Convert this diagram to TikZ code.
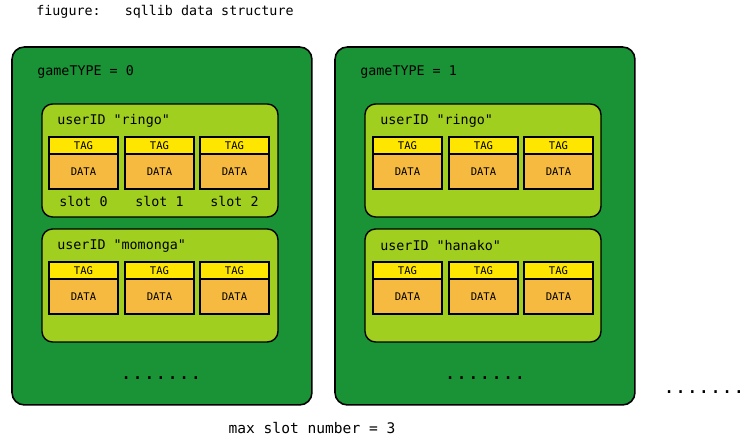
\documentclass[tikz,border=0pt]{standalone}
\usepackage{fontspec}
\setmonofont{DejaVu Sans Mono}
\usepackage{tikz}
\usetikzlibrary{positioning}

\definecolor{gamegreen}{RGB}{26,146,54}
\definecolor{usergreen}{RGB}{161,207,32}
\definecolor{tagyellow}{RGB}{255,230,0}
\definecolor{dataorange}{RGB}{247,186,64}

\tikzset{
    gamebox/.style={draw=black, line width=0.9pt, fill=gamegreen, rounded corners=7pt,
                    anchor=north west, minimum width=6cm, minimum height=7.16cm, outer sep=0pt},
    userbox/.style={draw=black, line width=0.8pt, fill=usergreen, rounded corners=6pt,
                    anchor=north west, minimum width=4.72cm, minimum height=2.26cm, outer sep=0pt},
    tagbox/.style={draw=black, line width=0.75pt, fill=tagyellow, anchor=north west,
                   minimum width=1.38cm, minimum height=0.34cm, inner sep=0pt, outer sep=0pt,
                   font=\ttfamily\fontsize{6}{7}\selectfont},
    databox/.style={draw=black, line width=0.75pt, fill=dataorange,
                    minimum width=1.38cm, minimum height=0.7cm, inner sep=0pt, outer sep=0pt,
                    font=\ttfamily\fontsize{6}{7}\selectfont},
    boxtext/.style={anchor=west, inner sep=0pt, font=\ttfamily\fontsize{7.6}{9}\selectfont},
    slottext/.style={inner sep=0pt, font=\ttfamily\fontsize{7.6}{9}\selectfont},
    moretext/.style={inner sep=0pt, font=\ttfamily\fontsize{11}{13}\selectfont}
}

\begin{document}
\begin{tikzpicture}[x=0.02cm, y=-0.02cm]
        \useasboundingbox (0,0) rectangle (747,443);

        \coordinate (G0) at (12,47);
        \coordinate (G1) at (335,47);
        \coordinate (U00) at (42,104);
        \coordinate (U01) at (42,229);
        \coordinate (U10) at (365,104);
        \coordinate (U11) at (365,229);

        % title
        \node[boxtext] (title) at (36,12) {fiugure:\ \ \ sqllib data structure};

        % gameTYPE boxes
        \node[gamebox] (g0) at (G0) {};
        \node[gamebox] (g1) at (G1) {};
        \node[boxtext] (g0name) at (37,72) {gameTYPE = 0};
        \node[boxtext] (g1name) at (360,72) {gameTYPE = 1};

        % userID boxes
        \node[userbox] (u00) at (U00) {};
        \node[userbox] (u01) at (U01) {};
        \node[userbox] (u10) at (U10) {};
        \node[userbox] (u11) at (U11) {};
        \node[boxtext] (u00name) at (57,121) {userID "ringo"};
        \node[boxtext] (u01name) at (57,246) {userID "momonga"};
        \node[boxtext] (u10name) at (380,121) {userID "ringo"};
        \node[boxtext] (u11name) at (380,246) {userID "hanako"};

        % slots, gameTYPE 0
        \node[tagbox] (t000) at (49,137) {TAG};
        \node[tagbox] (t001) at (125,137) {TAG};
        \node[tagbox] (t002) at (200,137) {TAG};
        \node[databox, below=0pt of t000] (d000) {DATA};
        \node[databox, below=0pt of t001] (d001) {DATA};
        \node[databox, below=0pt of t002] (d002) {DATA};
        \node[slottext, below=4pt of d000] (s0) {slot 0};
        \node[slottext, below=4pt of d001] (s1) {slot 1};
        \node[slottext, below=4pt of d002] (s2) {slot 2};

        \node[tagbox] (t010) at (49,262) {TAG};
        \node[tagbox] (t011) at (125,262) {TAG};
        \node[tagbox] (t012) at (200,262) {TAG};
        \node[databox, below=0pt of t010] (d010) {DATA};
        \node[databox, below=0pt of t011] (d011) {DATA};
        \node[databox, below=0pt of t012] (d012) {DATA};

        % slots, gameTYPE 1
        \node[tagbox] (t100) at (373,137) {TAG};
        \node[tagbox] (t101) at (449,137) {TAG};
        \node[tagbox] (t102) at (524,137) {TAG};
        \node[databox, below=0pt of t100] (d100) {DATA};
        \node[databox, below=0pt of t101] (d101) {DATA};
        \node[databox, below=0pt of t102] (d102) {DATA};

        \node[tagbox] (t110) at (373,262) {TAG};
        \node[tagbox] (t111) at (449,262) {TAG};
        \node[tagbox] (t112) at (524,262) {TAG};
        \node[databox, below=0pt of t110] (d110) {DATA};
        \node[databox, below=0pt of t111] (d111) {DATA};
        \node[databox, below=0pt of t112] (d112) {DATA};

        % more entries
        \node[moretext] (m0) at (161,378) {.......};
        \node[moretext] (m1) at (485,378) {.......};
        \node[moretext] (m2) at (704,392) {.......};

        \node[slottext, font=\ttfamily\fontsize{8.3}{10}\selectfont] (maxslot) at (312,428) {max slot number = 3};
    \end{tikzpicture}
\end{document}
